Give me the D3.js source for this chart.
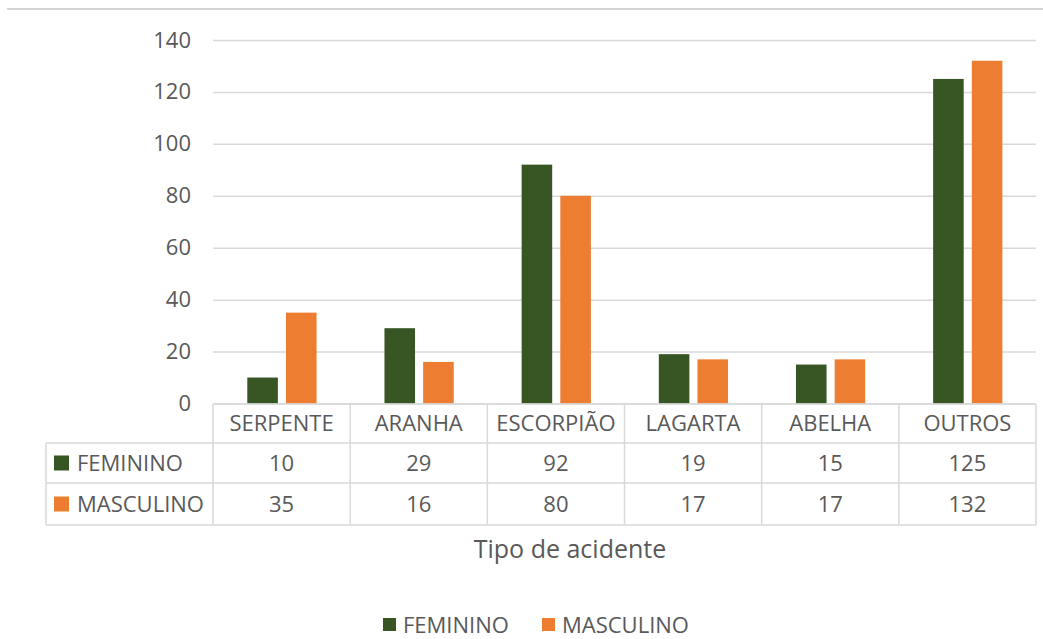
<!DOCTYPE html>
<html>
<head>
<meta charset="utf-8">
<script src="https://cdn.jsdelivr.net/npm/d3@7"></script>
<style>
  body { margin: 0; background: #fff; }
  text { font-family: "Open Sans", sans-serif; fill: #595959; }
</style>
</head>
<body>
<div id="canvas"></div>
<script>
// data
var categories = ['SERPENTE', 'ARANHA', 'ESCORPIÃO', 'LAGARTA', 'ABELHA', 'OUTROS'];
var seriesNames = ['FEMININO', 'MASCULINO'];
var feminino = [10, 29, 92, 19, 15, 125];
var masculino = [35, 16, 80, 17, 17, 132];
var yTicks = [0, 20, 40, 60, 80, 100, 120, 140];
var axisTitle = 'Tipo de acidente';

var W = 1043, H = 639;
var colors = { FEMININO: '#375623', MASCULINO: '#ED7D31' };
var grid = '#d9d9d9';
var fs = 22;

var svg = d3.select('#canvas').append('svg')
    .attr('width', W).attr('height', H);

// top border line
svg.append('line')
    .attr('x1', 7).attr('x2', W).attr('y1', 9).attr('y2', 9)
    .attr('stroke', '#d2d2d2').attr('stroke-width', 2);

var plotL = 213, plotR = 1036, plotT = 40, plotB = 403.5;

var scaleX = d3.scaleBand().domain(categories).range([plotL, plotR]);
var bw = scaleX.bandwidth();
var scaleX1 = d3.scaleBand().domain(seriesNames)
    .range([bw * 0.25, bw * 0.755]).paddingInner(0.21);
var scaleY = d3.scaleLinear().domain([0, 140]).range([plotB, plotT]);

// gridlines + y labels
var axisY = d3.axisLeft(scaleY).tickValues(yTicks).tickSize(0).tickPadding(22);
var gy = svg.append('g').attr('transform', 'translate(' + plotL + ',0)').call(axisY);
gy.select('.domain').remove();
gy.selectAll('text').style('font-size', fs + 'px').attr('fill', '#595959')
    .style('font-family', '"Open Sans", sans-serif');
gy.selectAll('.tick').append('line')
    .attr('x1', 0).attr('x2', plotR - plotL)
    .attr('stroke', grid).attr('stroke-width', 1.5);
gy.selectAll('.tick').filter(function(d) { return d === 0; }).select('line').remove();

// bars
var rows = categories.map(function(c, i) {
    return { cat: c, FEMININO: feminino[i], MASCULINO: masculino[i] };
});
var groups = svg.append('g').selectAll('g').data(rows).enter().append('g')
    .attr('transform', function(d) { return 'translate(' + scaleX(d.cat) + ',0)'; });
groups.selectAll('rect')
    .data(function(d) { return seriesNames.map(function(s) { return { s: s, v: d[s] }; }); })
    .enter().append('rect')
    .attr('x', function(d) { return scaleX1(d.s); })
    .attr('width', scaleX1.bandwidth())
    .attr('y', function(d) { return scaleY(d.v); })
    .attr('height', function(d) { return scaleY(0) - scaleY(d.v); })
    .attr('fill', function(d) { return colors[d.s]; });

// data table
var tL = 46, rowY = [404, 443, 483, 525];
var table = svg.append('g').attr('stroke', grid).attr('stroke-width', 1.5);
table.append('line').attr('x1', plotL).attr('x2', plotR).attr('y1', rowY[0]).attr('y2', rowY[0]);
[1, 2, 3].forEach(function(i) {
    table.append('line').attr('x1', tL).attr('x2', plotR).attr('y1', rowY[i]).attr('y2', rowY[i]);
});
table.append('line').attr('x1', tL).attr('x2', tL).attr('y1', rowY[1]).attr('y2', rowY[3]);
categories.concat(['end']).forEach(function(c) {
    var x = c === 'end' ? plotR : scaleX(c);
    table.append('line').attr('x1', x).attr('x2', x).attr('y1', rowY[0]).attr('y2', rowY[3]);
});

svg.append('g').selectAll('text').data(categories).enter().append('text')
    .attr('x', function(d) { return scaleX(d) + bw / 2; })
    .attr('y', (rowY[0] + rowY[1]) / 2)
    .attr('dy', '0.35em').attr('text-anchor', 'middle')
    .style('font-size', fs + 'px')
    .text(function(d) { return d; });

seriesNames.forEach(function(s, si) {
    var vals = si === 0 ? feminino : masculino;
    var cy = (rowY[si + 1] + rowY[si + 2]) / 2;
    svg.append('rect').attr('x', 54).attr('y', cy - 7.5).attr('width', 15).attr('height', 15)
        .attr('fill', colors[s]);
    svg.append('text').attr('x', 77).attr('y', cy).attr('dy', '0.35em')
        .style('font-size', fs + 'px').text(s);
    svg.append('g').selectAll('text').data(vals).enter().append('text')
        .attr('x', function(d, i) { return scaleX(categories[i]) + bw / 2; })
        .attr('y', cy).attr('dy', '0.35em').attr('text-anchor', 'middle')
        .style('font-size', fs + 'px')
        .text(function(d) { return d; });
});

// axis title
svg.append('text').attr('x', 570).attr('y', 549).attr('dy', '0.35em')
    .attr('text-anchor', 'middle').style('font-size', '25px').text(axisTitle);

// legend
var legendX = [383, 542];
seriesNames.forEach(function(s, i) {
    svg.append('rect').attr('x', legendX[i]).attr('y', 618).attr('width', 13).attr('height', 13)
        .attr('fill', colors[s]);
    svg.append('text').attr('x', legendX[i] + 20).attr('y', 625).attr('dy', '0.35em')
        .style('font-size', fs + 'px').text(s);
});
</script>
</body>
</html>
